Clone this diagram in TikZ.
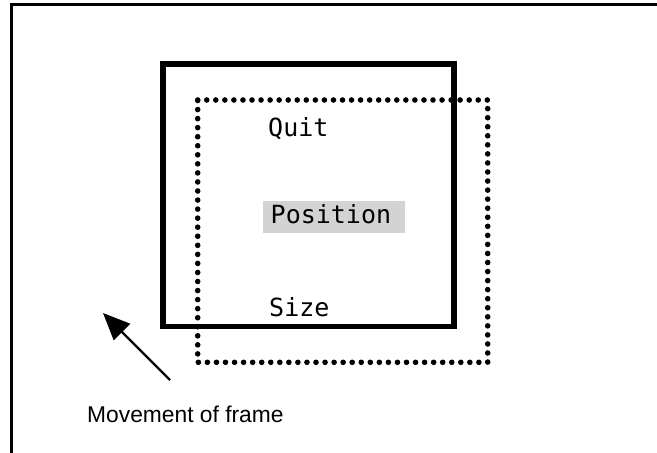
\documentclass[tikz,border=0pt]{standalone}
\usepackage{fontspec}
\setmainfont{Liberation Sans}
\newfontfamily\monofnt{DejaVu Sans Mono}
\usetikzlibrary{arrows.meta}
\definecolor{hilite}{HTML}{D1D3D4}
\begin{document}
\begin{tikzpicture}[x=1pt,y=-1pt,
  framebox/.style={line width=5.5pt},
  dotbox/.style={line width=5.6pt, line cap=round, dash pattern=on 0pt off 9.05pt},
  menutext/.style={inner sep=0pt, anchor=base west, font=\monofnt\fontsize{25}{25}\selectfont},
  caption/.style={inner sep=0pt, anchor=base west, font=\fontsize{22.8}{22.8}\selectfont},
  moveline/.style={line width=2.2pt, -{Triangle[length=27pt,width=23pt]}}]
\useasboundingbox (0,0) rectangle (657,453);
% outer window edges
\draw[line width=3pt] (11,453) -- (11,4) -- (657,4);
% highlight behind Position
\fill[hilite] (263,201) rectangle (405,233);
% solid frame
\draw[framebox] (163,64) rectangle (454,326.5);
% dotted frame
\draw[dotbox] (197.7,100) -- (487.7,100) -- (487.7,362.3) -- (197.7,362.3) -- cycle;
% texts
\node[menutext] (quit) at (268,136.5) {Quit};
\node[menutext] (pos) at (270.5,223) {Position};
\node[menutext] (size) at (269,316.5) {Size};
\node[caption] (cap) at (87,422) {Movement of frame};
% arrow
\coordinate (tail) at (170,380);
\coordinate (tip) at (103,313);
\draw[moveline] (tail) -- (tip);
\end{tikzpicture}
\end{document}
